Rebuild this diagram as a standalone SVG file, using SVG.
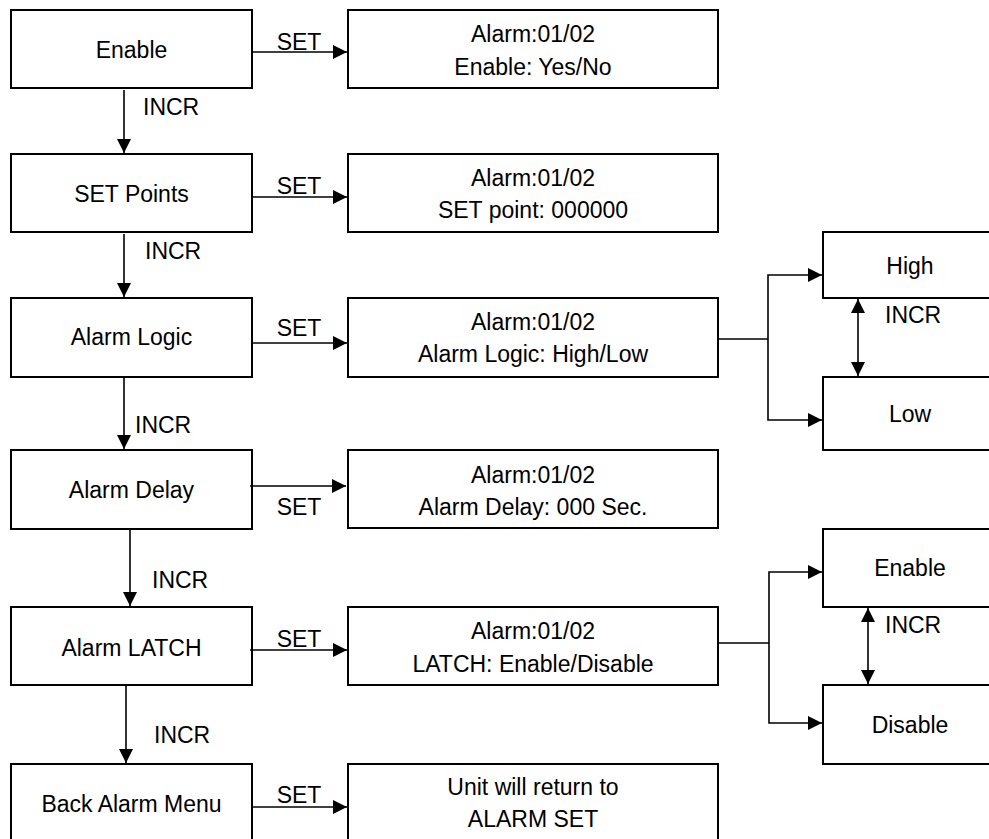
<svg xmlns="http://www.w3.org/2000/svg" width="989" height="839" viewBox="0 0 989 839">
<style>
  .box rect { fill: #ffffff; stroke: #000000; stroke-width: 2; }
  text { font-family: "Liberation Sans", Arial, sans-serif; font-size: 23px; fill: #000000; }
  .c { text-anchor: middle; }
  .conn line, .conn polyline { stroke: #000000; stroke-width: 1.6; fill: none; }
  .arr { marker-end: url(#ah); }
  .bi { marker-start: url(#ah); marker-end: url(#ah); }
</style>
<defs>
  <marker id="ah" viewBox="0 0 14 14" refX="14" refY="7" markerWidth="14" markerHeight="14" markerUnits="userSpaceOnUse" orient="auto-start-reverse">
    <path d="M0,0 L14,7 L0,14 z" fill="#000000"/>
  </marker>
</defs>
<rect x="0" y="0" width="989" height="839" fill="#ffffff"/>

<g id="n-enable" class="box"><rect x="11" y="10" width="241" height="78"/><text class="c" x="131.5" y="58">Enable</text></g>
<g id="n-enable-disp" class="box"><rect x="348" y="10" width="370" height="78"/><text class="c" x="533" y="42">Alarm:01/02</text><text class="c" x="533" y="75">Enable: Yes/No</text></g>

<g id="n-setpoints" class="box"><rect x="11" y="154" width="241" height="78"/><text class="c" x="131.5" y="202">SET Points</text></g>
<g id="n-setpoints-disp" class="box"><rect x="348" y="154" width="370" height="78"/><text class="c" x="533" y="186">Alarm:01/02</text><text class="c" x="533" y="218">SET point: 000000</text></g>

<g id="n-logic" class="box"><rect x="11" y="298" width="241" height="79"/><text class="c" x="131.5" y="345">Alarm Logic</text></g>
<g id="n-logic-disp" class="box"><rect x="348" y="298" width="370" height="79"/><text class="c" x="533" y="330">Alarm:01/02</text><text class="c" x="533" y="362">Alarm Logic: High/Low</text></g>
<g id="n-high" class="box"><rect x="823" y="232" width="170" height="66"/><text class="c" x="910" y="274">High</text></g>
<g id="n-low" class="box"><rect x="823" y="377" width="170" height="73"/><text class="c" x="910" y="422">Low</text></g>

<g id="n-delay" class="box"><rect x="11" y="450" width="241" height="79"/><text class="c" x="131.5" y="498">Alarm Delay</text></g>
<g id="n-delay-disp" class="box"><rect x="348" y="450" width="370" height="78"/><text class="c" x="533" y="483">Alarm:01/02</text><text class="c" x="533" y="515">Alarm Delay: 000 Sec.</text></g>

<g id="n-latch" class="box"><rect x="11" y="607" width="241" height="78"/><text class="c" x="131.5" y="656">Alarm LATCH</text></g>
<g id="n-latch-disp" class="box"><rect x="348" y="607" width="370" height="78"/><text class="c" x="533" y="639">Alarm:01/02</text><text class="c" x="533" y="672">LATCH: Enable/Disable</text></g>
<g id="n-latch-enable" class="box"><rect x="823" y="529" width="170" height="78"/><text class="c" x="910" y="576">Enable</text></g>
<g id="n-latch-disable" class="box"><rect x="823" y="685" width="170" height="79"/><text class="c" x="910" y="733">Disable</text></g>

<g id="n-back" class="box"><rect x="11" y="764" width="241" height="80"/><text class="c" x="131.5" y="812">Back Alarm Menu</text></g>
<g id="n-back-disp" class="box"><rect x="348" y="764" width="370" height="80"/><text class="c" x="533" y="795">Unit will return to</text><text class="c" x="533" y="827">ALARM SET</text></g>

<g id="connectors" class="conn">
  <line class="arr" x1="252" y1="52" x2="347" y2="52"/>
  <line class="arr" x1="252" y1="197" x2="347" y2="197"/>
  <line class="arr" x1="252" y1="343" x2="347" y2="343"/>
  <line class="arr" x1="250" y1="486" x2="346" y2="486"/>
  <line class="arr" x1="250" y1="650" x2="347" y2="650"/>
  <line class="arr" x1="252" y1="807" x2="347" y2="807"/>

  <line class="arr" x1="124" y1="90" x2="124" y2="153"/>
  <line class="arr" x1="124" y1="234" x2="124" y2="297"/>
  <line class="arr" x1="124" y1="378" x2="124" y2="449"/>
  <line class="arr" x1="130" y1="530" x2="130" y2="606"/>
  <line class="arr" x1="126" y1="686" x2="126" y2="763"/>

  <line x1="718" y1="339" x2="768" y2="339"/>
  <polyline class="arr" points="768,339 768,275 822,275"/>
  <polyline class="arr" points="768,339 768,420 822,420"/>
  <line class="bi" x1="858" y1="299" x2="858" y2="376"/>

  <line x1="718" y1="643" x2="769" y2="643"/>
  <polyline class="arr" points="769,643 769,572 822,572"/>
  <polyline class="arr" points="769,643 769,723 822,723"/>
  <line class="bi" x1="868" y1="608" x2="868" y2="684"/>

  <text class="c" x="299" y="50">SET</text>
  <text class="c" x="299" y="194">SET</text>
  <text class="c" x="299" y="336">SET</text>
  <text class="c" x="299" y="515">SET</text>
  <text class="c" x="299" y="647">SET</text>
  <text class="c" x="299" y="803">SET</text>

  <text x="143" y="115">INCR</text>
  <text x="145" y="259">INCR</text>
  <text x="135" y="433">INCR</text>
  <text x="152" y="588">INCR</text>
  <text x="154" y="743">INCR</text>
  <text x="885" y="323">INCR</text>
  <text x="885" y="633">INCR</text>
</g>
</svg>
